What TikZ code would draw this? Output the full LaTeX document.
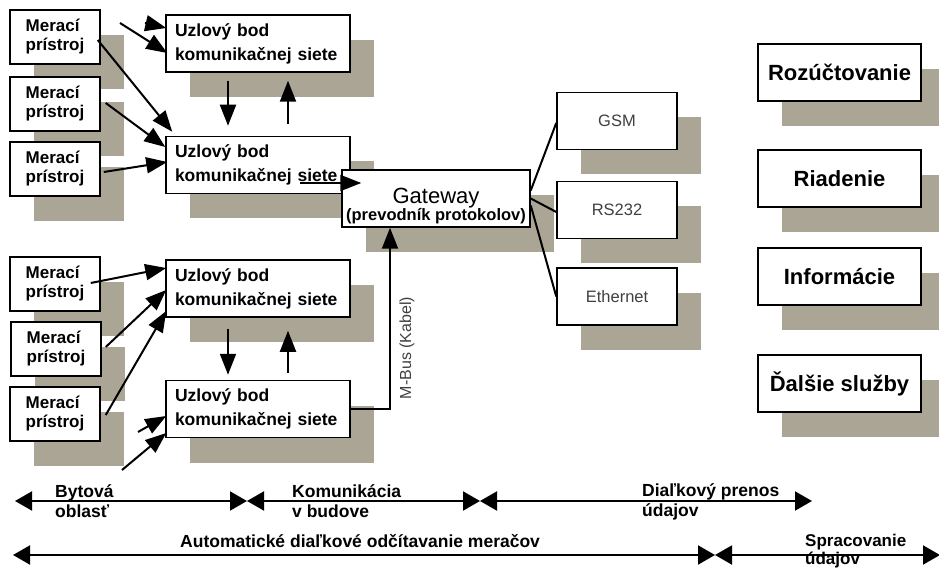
\documentclass[tikz,border=0pt]{standalone}
\usepackage{fontspec}
\setmainfont{Liberation Sans}
\usetikzlibrary{arrows.meta}
\usetikzlibrary{shadows}

\definecolor{shadowgray}{RGB}{170,165,148}

\tikzset{
    box/.style={draw, line width=1.5pt, fill=white, inner sep=0pt,
        drop shadow={shadow xshift=24pt, shadow yshift=-25pt, fill=shadowgray, opacity=1}},
    meter/.style={box, minimum width=90pt, minimum height=54pt, align=left,
        font=\bfseries\fontsize{17}{19}\selectfont},
    uzol/.style={box, minimum width=184pt, minimum height=57pt, text width=166pt, align=left,
        font=\bfseries\fontsize{17.5}{24}\selectfont},
    link/.style={box, minimum width=120pt, minimum height=57pt,
        font=\fontsize{16.5}{18}\selectfont, text=black!75},
    service/.style={box, minimum width=163pt, minimum height=57pt,
        font=\bfseries\fontsize{22}{24}\selectfont},
    arr/.style={line width=2pt, -{Triangle[length=21pt,width=16pt]}},
    scalebar/.style={line width=2pt, {Triangle[length=17pt,width=19pt]}-{Triangle[length=17pt,width=19pt]}},
    scalelabel/.style={anchor=west, align=left, inner sep=0pt,
        font=\bfseries\fontsize{17.5}{20}\selectfont}
}

\begin{document}
\begin{tikzpicture}[x=1pt, y=-1pt]
        \useasboundingbox (0,0) rectangle (939,569);

        % meters
        \foreach \n/\x/\y in {m1/55/37, m2/55/104, m3/55/169, m4/55/284, m5/56/349, m6/55/414}
            \node[meter] (\n) at (\x,\y) {Merací\\prístroj};

        % network nodes
        \foreach \n/\y in {n1/43.5, n2/165, n3/288.5, n4/409}
            \node[uzol] (\n) at (258,\y) {Uzlový bod\\komunikačnej siete};

        % gateway and links
        % -----------------
        \node[box, minimum width=188pt, minimum height=57pt, align=center,
            font=\fontsize{16.5}{17}\selectfont] (gw) at (436,198.5)
            {{\fontsize{22}{22}\selectfont\rule{0pt}{30pt}Gateway}\\{\bfseries (prevodník protokolov)}};
        \node[link] (gsm) at (617,121) {GSM};
        \node[link] (rs) at (617,210) {RS232};
        \node[link] (eth) at (617,296.5) {Ethernet};

        % services
        \node[service] (roz) at (839.5,72.5) {Rozúčtovanie};
        \node[service] (ria) at (839.5,178.5) {Riadenie};
        \node[service] (inf) at (839.5,276.5) {Informácie};
        \node[service] (dal) at (839.5,383.5) {Ďalšie služby};

        % upper group
        % -----------
        \coordinate (s1) at (120,23);
        \coordinate (s2) at (145,23);
        \draw[arr] (s1) -- ([xshift=2pt,yshift=-9.5pt]n1.west);
        \draw[arr] (s2) -- ([xshift=1pt,yshift=15.5pt]n1.west);
        \draw[arr] ([xshift=-3pt,yshift=-3pt]m1.east) -- ([xshift=7pt,yshift=4pt]n2.north west);
        \draw[arr] ([xshift=5pt,yshift=1pt]m2.east) -- ([yshift=18pt]n2.west);
        \draw[arr] ([xshift=3pt,yshift=-3pt]m3.east) -- ([xshift=2pt,yshift=3pt]n2.west);
        \draw[arr] ([xshift=-30pt,yshift=-8pt]n1.south) -- ([xshift=-30pt,yshift=10pt]n2.north);
        \draw[arr] ([xshift=30pt,yshift=12pt]n2.north) -- ([xshift=30pt,yshift=-8pt]n1.south);
        \draw[arr] ([xshift=42pt,yshift=-18pt]n2.center) -- ([xshift=20pt,yshift=15.5pt]gw.west);

        % lower group
        % -----------
        \coordinate (s3) at (138,432);
        \coordinate (s4) at (122,470);
        \draw[arr] ([xshift=-10pt,yshift=1pt]m4.east) -- ([xshift=1pt,yshift=20.5pt]n3.west);
        \draw[arr] ([xshift=4pt,yshift=2pt]m5.east) -- ([xshift=1pt,yshift=-1.5pt]n3.west);
        \draw[arr] ([xshift=5pt,yshift=-1pt]m6.east) -- ([xshift=1pt,yshift=-22.5pt]n3.west);
        \draw[arr] (s3) -- ([xshift=1pt,yshift=-7pt]n4.west);
        \draw[arr] (s4) -- ([xshift=1pt,yshift=-24pt]n4.west);
        \draw[arr] ([xshift=-30pt,yshift=-11pt]n3.south) -- ([xshift=-30pt,yshift=5pt]n4.north);
        \draw[arr] ([xshift=30pt,yshift=7pt]n4.north) -- ([xshift=30pt,yshift=-13pt]n3.south);

        % bus and links
        \draw[arr] (n4.east) -| ([xshift=-46pt]gw.south);
        \node[rotate=90, font=\fontsize{16}{18}\selectfont, text=black!75] (mbus) at (407,348) {M-Bus (Kabel)};
        \draw[line width=2pt] ([yshift=8pt]gw.east) -- ([yshift=-2pt]gsm.west);
        \draw[line width=2pt] (gw.east) -- ([yshift=-2pt]rs.west);
        \draw[line width=2pt] ([yshift=-7pt]gw.east) -- (eth.west);

        % scale
        % -----
        \coordinate (b0) at (15,501);
        \coordinate (b1) at (247,501);
        \coordinate (b2) at (480,501);
        \coordinate (b3) at (812,501);
        \coordinate (c0) at (13,555);
        \coordinate (c1) at (715,555);
        \coordinate (c2) at (940,555);
        \draw[scalebar] (b0) -- (b1);
        \draw[scalebar] (b1) -- (b2);
        \draw[scalebar] (b2) -- (b3);
        \draw[scalebar] (c0) -- (c1);
        \draw[scalebar] (c1) -- (c2);

        % add labels
        \node[scalelabel] (lbyt) at (55,501) {Bytová\\oblasť};
        \node[scalelabel] (lkom) at (292,501) {Komunikácia\\v budove};
        \node[scalelabel] (ldial) at (642,502) {Diaľkový prenos\\údajov};
        \node[scalelabel, anchor=base west] (lauto) at (180,547) {Automatické diaľkové odčítavanie meračov};
        \node[scalelabel, font=\bfseries\fontsize{17}{18}\selectfont] (lspr) at (805,551) {Spracovanie\\údajov};

    \end{tikzpicture}
\end{document}
